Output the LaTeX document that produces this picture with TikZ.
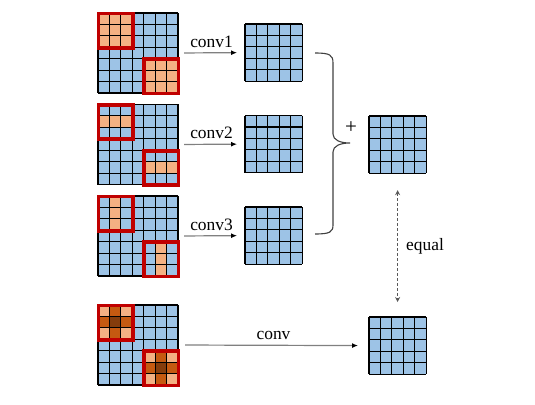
\documentclass[tikz,border=0pt]{standalone}
\usepackage{fontspec}
\setmainfont{Liberation Serif}
\usetikzlibrary{arrows.meta}
\definecolor{cellblue}{HTML}{9DC3E6}
\definecolor{celllight}{HTML}{F4B183}
\definecolor{cellmid}{HTML}{C55A11}
\definecolor{celldark}{HTML}{843C0C}
\definecolor{boxred}{HTML}{C00000}
\newcommand{\cellsize}{11.43}

\begin{document}
\begin{tikzpicture}%
	[x={(1pt, 0pt)},
	y={(0pt, -1pt)},
	font=\fontsize{17.4}{20}\selectfont,
	gridbox/.style={inner sep=0pt, outer sep=0pt, fill=cellblue},
	gridline/.style={color=black, line width=1.1pt},
	lightcell/.style={fill=celllight},
	midcell/.style={fill=cellmid},
	darkcell/.style={fill=celldark},
	window/.style={draw=boxred, line width=3.6pt},
	convarrow/.style={color=black!50, line width=1.2pt, -{Latex[length=6pt, width=5pt, color=black]}},
	equalarrow/.style={color=black!65, line width=1pt, dash pattern=on 3pt off 2pt, {Stealth[length=5pt, width=5pt]}-{Stealth[length=5pt, width=5pt]}},
	brace/.style={color=black!75, line width=1.1pt},
	convlabel/.style={above=5pt, inner sep=0pt, text=black}]
%
\useasboundingbox (0,0) rectangle (535,404);
%%
%%
%% Placing the grids
%%
\foreach \name/\cx/\cy/\n in {in1/138/53/7, in2/138/144.5/7, in3/138/236/7, in4/138/345/7,
	out1/273.6/52.6/5, out2/273.6/144.1/5, out3/273.6/235.6/5, sum/397.6/144.6/5, out4/397.6/345.6/5}
	\node[gridbox, minimum size={\n*\cellsize*1pt}] (\name) at (\cx,\cy) {};
%%
%%
%% Filling the windows
%%
\foreach \i in {0,4} {
	\foreach \a in {0,1,2} {
		\foreach \b in {0,1,2}
			\fill[lightcell] ([shift={({(\i+\a)*\cellsize},{(\i+\b)*\cellsize})}]in1.north west) rectangle ++(\cellsize,\cellsize);
		\fill[lightcell] ([shift={({(\i+\a)*\cellsize},{(\i+1)*\cellsize})}]in2.north west) rectangle ++(\cellsize,\cellsize);
		\fill[lightcell] ([shift={({(\i+1)*\cellsize},{(\i+\a)*\cellsize})}]in3.north west) rectangle ++(\cellsize,\cellsize);
		\foreach \b in {0,1,2}
			\fill[lightcell] ([shift={({(\i+\a)*\cellsize},{(\i+\b)*\cellsize})}]in4.north west) rectangle ++(\cellsize,\cellsize);
	}
	\foreach \a/\b in {1/0, 0/1, 2/1, 1/2}
		\fill[midcell] ([shift={({(\i+\a)*\cellsize},{(\i+\b)*\cellsize})}]in4.north west) rectangle ++(\cellsize,\cellsize);
	\fill[darkcell] ([shift={({(\i+1)*\cellsize},{(\i+1)*\cellsize})}]in4.north west) rectangle ++(\cellsize,\cellsize);
}
%%
%%
%% Drawing the grid lines
%%
\foreach \name/\n in {in1/7, in2/7, in3/7, in4/7, out1/5, out2/5, out3/5, sum/5, out4/5}
	\foreach \k in {0,...,\n} {
		\draw[gridline] ([shift={({\k*\cellsize},0)}]\name.north west) -- ([shift={({\k*\cellsize},0)}]\name.south west);
		\draw[gridline] ([shift={(0,{\k*\cellsize})}]\name.north west) -- ([shift={(0,{\k*\cellsize})}]\name.north east);
	}
%%
%%
%% Drawing the windows
%%
\foreach \name in {in1, in2, in3, in4}
	\foreach \i in {0,4}
		\draw[window] ([shift={({\i*\cellsize+0.5},{\i*\cellsize+0.5})}]\name.north west) rectangle ++({3*\cellsize},{3*\cellsize});
%%
%%
%% Drawing the arrows
%%
\draw[convarrow, shorten <=6pt, shorten >=8pt] (in1.east) -- (out1.west) node[convlabel, midway] {conv1};
\draw[convarrow, shorten <=6pt, shorten >=8pt] (in2.east) -- (out2.west) node[convlabel, midway] {conv2};
\draw[convarrow, shorten <=6pt, shorten >=8pt] (in3.east) -- (out3.west) node[convlabel, midway] {conv3};
\draw[convarrow, shorten <=7pt, shorten >=11pt] (in4.east) -- (out4.west) node[convlabel, midway] {conv};
\draw[equalarrow, shorten <=17pt, shorten >=15pt] (sum.south) -- (out4.north);
\node[anchor=base west, inner sep=0pt] (equal) at (406,250) {equal};
%%
%%
%% Drawing the brace
%%
\draw[brace] (315,53) .. controls (330,53) and (333,55) .. (333,63) -- (333,134)
	.. controls (333,140) and (340,143) .. (350,143)
	.. controls (340,143) and (333,146) .. (333,152) -- (333,225)
	.. controls (333,232) and (330,234) .. (315,234);
\node[inner sep=0pt, font=\fontsize{21}{24}\selectfont] (plus) at (351,128) {+};

\end{tikzpicture}
\end{document}
